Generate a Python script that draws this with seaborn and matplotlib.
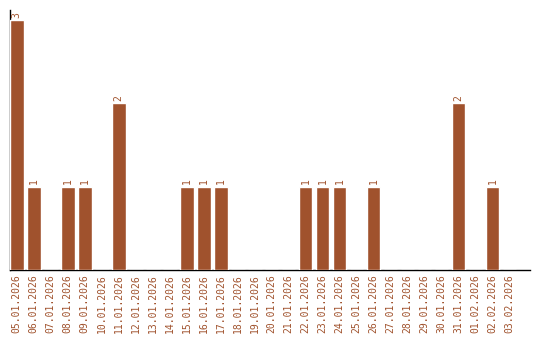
import matplotlib
matplotlib.use("Agg")
import matplotlib.pyplot as plt
import seaborn as sns
import pandas as pd

dates = ["05.01.2026", "06.01.2026", "07.01.2026", "08.01.2026", "09.01.2026",
         "10.01.2026", "11.01.2026", "12.01.2026", "13.01.2026", "14.01.2026",
         "15.01.2026", "16.01.2026", "17.01.2026", "18.01.2026", "19.01.2026",
         "20.01.2026", "21.01.2026", "22.01.2026", "23.01.2026", "24.01.2026",
         "25.01.2026", "26.01.2026", "27.01.2026", "28.01.2026", "29.01.2026",
         "30.01.2026", "31.01.2026", "01.02.2026", "02.02.2026", "03.02.2026"]
counts = [3, 1, 0, 1, 1, 0, 2, 0, 0, 0,
          1, 1, 1, 0, 0, 0, 0, 1, 1, 1,
          0, 1, 0, 0, 0, 0, 2, 0, 1, 0]

color = "#A0522D"
sns.set_style("white")
plt.rcParams['font.family'] = ['DejaVu Sans Mono', 'DejaVu Sans']

df = pd.DataFrame({"date": dates, "count": counts})
fig = plt.figure(figsize=(5.4, 3.4), dpi=100)
ax = fig.add_axes([10/540, 70/340, 520/540, 260/340])
sns.barplot(data=df, x="date", y="count", color=color, saturation=1, width=0.8, ax=ax)
for p in ax.patches:
    p.set_zorder(3)

for i, v in enumerate(counts):
    if v > 0:
        ax.text(i, v + 0.03, str(v), rotation=90, ha="center", va="bottom",
                color=color, fontsize=7)

ax.set_xlim(-0.4, 30.2)
ax.set_ylim(0, 3.12)
ax.set_xlabel("")
ax.set_ylabel("")
ax.set_yticks([])
ax.tick_params(axis="x", length=0, pad=3, labelsize=7, labelcolor=color)
plt.setp(ax.get_xticklabels(), rotation=90)
for s in ["top", "right"]:
    ax.spines[s].set_visible(False)
ax.spines["left"].set_color("black")
ax.spines["bottom"].set_color("black")
ax.spines["left"].set_linewidth(1)
ax.spines["bottom"].set_linewidth(1)

fig.savefig("out.png", dpi=100)
